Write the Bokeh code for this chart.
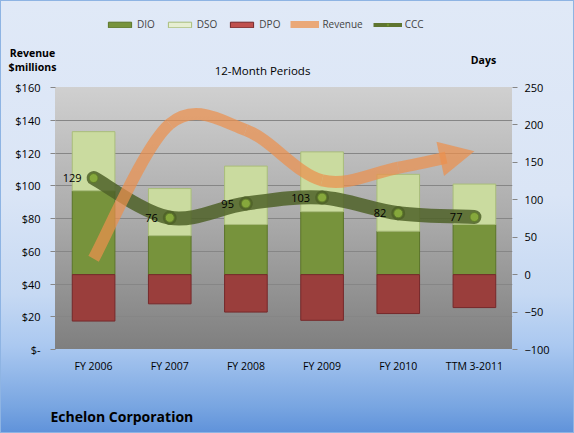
from bokeh.plotting import figure
from bokeh.layouts import column, row
from bokeh.models import (Range1d, LinearAxis, FixedTicker, NumeralTickFormatter, Legend,
                          LegendItem, Label, Arrow, NormalHead, ColumnDataSource)
from bokeh.core.properties import value
from bokeh.embed import file_html
from bokeh.resources import INLINE

# ---- data ----
categories = ["FY 2006", "FY 2007", "FY 2008", "FY 2009", "FY 2010", "TTM 3-2011"]
dio = [112, 52, 67, 84, 58, 67]
dso = [79, 63, 78, 80, 76, 54]
dpo = [62, 39, 50, 61, 52, 44]
ccc = [129, 76, 95, 103, 82, 77]
revenue = [55.4, 137.7, 134.0, 103.3, 111.0, 121.0]
rev_ticks = [0, 20, 40, 60, 80, 100, 120, 140, 160]
day_ticks = [-100, -50, 0, 50, 100, 150, 200, 250]

FONT = "Open Sans"
xs = [i + 0.5 for i in range(len(categories))]

W = 574
HEAD_H, MAIN_H, FOOT_H = 78, 307, 48
FL, FT, FW, FH = 55, 9, 457, 262  # frame box inside the main figure

C_DIO, L_DIO = "#77933c", "#5b7529"
C_DSO, L_DSO = "#cadb9f", "#a9bd7a"
C_DPO, L_DPO = "#9a3e3c", "#76282a"
C_CCC = "#4f6228"
C_DOT, L_DOT = "#86a83c", "#5f7a2a"
REV_C, REV_A = "#ec904e", 0.72


def bare(h):
    f = figure(width=W, height=h, x_range=Range1d(0, W), y_range=Range1d(h, 0),
               output_backend="svg", toolbar_location=None, min_border=0,
               x_axis_location=None, y_axis_location=None)
    f.grid.visible = False
    f.border_fill_color = None
    f.background_fill_color = None
    f.outline_line_color = None
    return f


def txt(fig, x, y, t, size, bold=False, align="center"):
    fig.add_layout(Label(x=x, y=y, text=t, text_font=FONT, text_font_size=size,
                         text_font_style="bold" if bold else "normal",
                         text_align=align, text_baseline="middle", text_color="black"))


# ================= main chart =================
p = figure(width=W, height=MAIN_H, x_range=Range1d(0, 6), y_range=Range1d(0, 160),
           output_backend="svg", toolbar_location=None,
           min_border_left=FL, min_border_right=W - FL - FW,
           min_border_top=FT, min_border_bottom=MAIN_H - FT - FH)
p.extra_y_ranges = {"days": Range1d(-100, 250)}
p.border_fill_color = None
p.background_fill_color = None
p.outline_line_color = None
p.styles = {
    "background": (f"linear-gradient(to bottom, #d0d0d0 0%, #ababab 50%, #7f7f7f 100%) "
                   f"{FL}px {FT}px / {FW}px {FH}px no-repeat"),
}

p.xaxis.ticker = FixedTicker(ticks=xs)
p.xaxis.major_label_overrides = {x: c for x, c in zip(xs, categories)}
p.xaxis.axis_line_color = None
p.xaxis.major_tick_line_color = None
p.xaxis.minor_tick_line_color = None
p.xaxis.major_tick_out = 0
p.xaxis.major_label_standoff = 9
p.xaxis.major_label_text_font = FONT
p.xaxis.major_label_text_font_size = "10.5px"
p.xaxis.major_label_text_color = "black"

p.yaxis.ticker = FixedTicker(ticks=rev_ticks)
p.yaxis.formatter = NumeralTickFormatter(format="$0")
p.yaxis.major_label_overrides = {0: "$-"}
ra = LinearAxis(y_range_name="days", ticker=FixedTicker(ticks=day_ticks))
p.add_layout(ra, "right")
for ax in (p.yaxis[0], ra):
    ax.axis_line_color = None
    ax.major_tick_out = 5
    ax.major_tick_in = 0
    ax.major_tick_line_color = "#868686"
    ax.minor_tick_line_color = None
    ax.major_label_text_font = FONT
    ax.major_label_text_font_size = "11px"
    ax.major_label_text_color = "black"
p.yaxis[0].major_label_standoff = 10
ra.major_label_standoff = 7

p.xgrid.grid_line_color = None
p.ygrid.grid_line_color = "#868686"
p.ygrid.ticker = FixedTicker(ticks=rev_ticks)

src = ColumnDataSource(dict(x=xs, dio=dio, dso=dso, dpo=dpo,
                            dso_top=[a + b for a, b in zip(dio, dso)],
                            dpo_bot=[-v for v in dpo]))
BW = 0.56
p.vbar(x="x", bottom=0, top="dio", width=BW, source=src, y_range_name="days",
       fill_color=C_DIO, line_color=L_DIO, line_width=1)
p.vbar(x="x", bottom="dio", top="dso_top", width=BW, source=src, y_range_name="days",
       fill_color=C_DSO, line_color=L_DSO, line_width=1)
p.vbar(x="x", bottom="dpo_bot", top=0, width=BW, source=src, y_range_name="days",
       fill_color=C_DPO, line_color=L_DPO, line_width=1)


def bezier_segments(px, py):
    n = len(px)
    seg = {k: [] for k in ("x0", "y0", "x1", "y1", "cx0", "cy0", "cx1", "cy1")}
    for i in range(n - 1):
        a, d = max(i - 1, 0), min(i + 2, n - 1)
        seg["x0"].append(px[i]); seg["y0"].append(py[i])
        seg["x1"].append(px[i + 1]); seg["y1"].append(py[i + 1])
        seg["cx0"].append(px[i] + (px[i + 1] - px[a]) / 6)
        seg["cy0"].append(py[i] + (py[i + 1] - py[a]) / 6)
        seg["cx1"].append(px[i + 1] - (px[d] - px[i]) / 6)
        seg["cy1"].append(py[i + 1] - (py[d] - py[i]) / 6)
    return seg


ccc_seg = bezier_segments(xs, ccc)
p.bezier(source=ColumnDataSource(ccc_seg), x0="x0", y0="y0", x1="x1", y1="y1",
         cx0="cx0", cy0="cy0", cx1="cx1", cy1="cy1", y_range_name="days",
         line_color=C_CCC, line_alpha=0.85, line_width=14, line_cap="round")
p.scatter(xs, ccc, y_range_name="days", size=9, marker="circle",
          fill_color=C_DOT, line_color=L_DOT, line_width=1)
p.text(x=xs, y=ccc, text=[str(v) for v in ccc], y_range_name="days",
       x_offset=-12, text_align="right", text_baseline="middle",
       text_font=value(FONT), text_font_size="11px", text_color="black")

rev_seg = bezier_segments(xs, revenue)
s = 0.56
P = [(rev_seg["x0"][-1], rev_seg["y0"][-1]), (rev_seg["cx0"][-1], rev_seg["cy0"][-1]),
     (rev_seg["cx1"][-1], rev_seg["cy1"][-1]), (rev_seg["x1"][-1], rev_seg["y1"][-1])]
lerp = lambda a, b: (a[0] + (b[0] - a[0]) * s, a[1] + (b[1] - a[1]) * s)
Q0, Q1, Q2 = lerp(P[0], P[1]), lerp(P[1], P[2]), lerp(P[2], P[3])
R0, R1 = lerp(Q0, Q1), lerp(Q1, Q2)
S = lerp(R0, R1)
rev_seg["cx0"][-1], rev_seg["cy0"][-1] = Q0
rev_seg["cx1"][-1], rev_seg["cy1"][-1] = R0
rev_seg["x1"][-1], rev_seg["y1"][-1] = S
p.bezier(source=ColumnDataSource(rev_seg), x0="x0", y0="y0", x1="x1", y1="y1",
         cx0="cx0", cy0="cy0", cx1="cx1", cy1="cy1",
         line_color=REV_C, line_alpha=REV_A, line_width=12, line_cap="butt")
p.add_layout(Arrow(end=NormalHead(size=35, fill_color=REV_C, fill_alpha=REV_A, line_alpha=0),
                   x_start=S[0], y_start=S[1], x_end=P[3][0], y_end=P[3][1],
                   line_alpha=0, line_width=0))

# ================= header (legend + titles) =================
hd = bare(HEAD_H)
# hidden renderers of the same series, used only for the legend swatches
g_dio = hd.vbar(x=xs, top=dio, width=1, fill_color=C_DIO, line_color=L_DIO, visible=False)
g_dso = hd.vbar(x=xs, top=dso, width=1, fill_color="#e6eed2", line_color=L_DSO, visible=False)
g_dpo = hd.vbar(x=xs, top=dpo, width=1, fill_color="#c0504d", line_color=L_DPO, visible=False)
g_rev = hd.line(x=xs, y=revenue, line_color="#eaa878", line_width=8, visible=False)
g_ccc = hd.line(x=xs, y=ccc, line_color="#5f7530", line_width=4, visible=False)
g_dot = hd.scatter(x=xs, y=ccc, size=7, marker="circle", fill_color=C_DOT,
                   line_color=L_DOT, visible=False)
legend = Legend(items=[LegendItem(label="DIO", renderers=[g_dio]),
                       LegendItem(label="DSO", renderers=[g_dso]),
                       LegendItem(label="DPO", renderers=[g_dpo]),
                       LegendItem(label="Revenue", renderers=[g_rev]),
                       LegendItem(label="CCC", renderers=[g_ccc, g_dot])],
                orientation="horizontal", location=(105, HEAD_H - 31),
                background_fill_alpha=0, border_line_alpha=0, padding=0, margin=0,
                glyph_width=29, glyph_height=7, label_standoff=3, spacing=10,
                label_width=0, label_height=14,
                label_text_font=FONT, label_text_font_size="10px")
hd.add_layout(legend, "center")

txt(hd, 262, 70, "12-Month Periods", "11.5px")
txt(hd, 32, 52, "Revenue", "10.5px", bold=True)
txt(hd, 32, 66, "$millions", "10.5px", bold=True)
txt(hd, 483, 59, "Days", "10.5px", bold=True)

# ================= footer =================
ft = bare(FOOT_H)
txt(ft, 50, 31, "Echelon Corporation", "14px", bold=True, align="left")

page = column(row(hd), p, row(ft), spacing=0)
page.styles = {
    "background": ("linear-gradient(to bottom, #e0e9f7 0%, #dae5f6 45%, #c6d9f3 68%, "
                   "#aac8f0 80%, #78a5e1 94%, #5f92da 100%)"),
    "box-shadow": "inset 0 0 0 1px #8eb4e3",
}

open("out.html", "w").write(file_html(page, INLINE))
